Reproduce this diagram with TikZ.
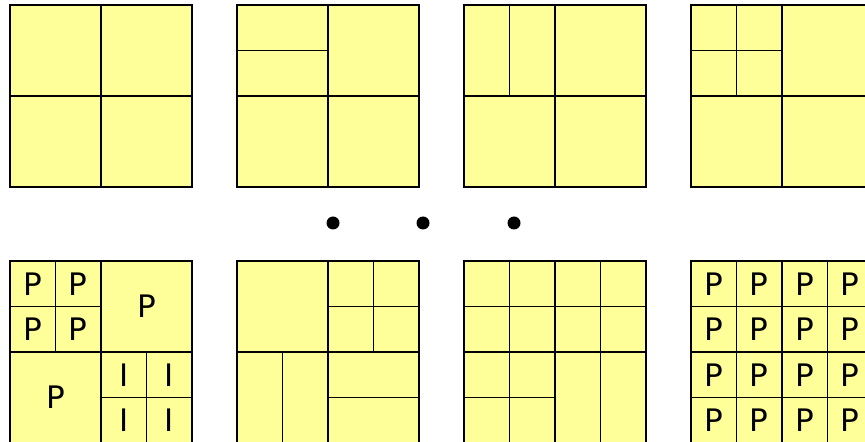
\documentclass[tikz,border=0pt]{standalone}
\usepackage{fontspec}
\setsansfont{DejaVu Sans}
\usetikzlibrary{positioning}
\definecolor{cellyellow}{HTML}{FFFF99}

\begin{document}
\begin{tikzpicture}[
  x=0.5pt, y=-0.5pt,
  font=\sffamily\fontsize{15.5}{18}\selectfont,
  blk/.style={draw=black, fill=cellyellow, line width=1pt},
  split/.style={draw=black, line width=0.9pt},
  lbl/.style={inner sep=0pt, anchor=center},
  dot/.style={circle, fill=black, inner sep=0pt, minimum size=6.5pt},
]
\clip (0,0) rectangle (865,442);

% top row: quadtree refinements of the top-left quadrant
\foreach \x in {10,237,464,691} {
  \draw[blk] (\x,5) rectangle ++(182,182);
  \draw[split] (\x+91,5) -- ++(0,182) (\x,96) -- ++(182,0);
}
\draw[split] (237,50.5) -- ++(91,0);
\draw[split] (509.5,5) -- ++(0,91);
\draw[split] (691,50.5) -- ++(91,0) (736.5,5) -- ++(0,91);

% dots
\node[dot] (d1) at (333,223) {};
\node[dot] (d2) at (423,223) {};
\node[dot] (d3) at (514,223) {};

% bottom row
\foreach \x in {10,237,464,691} {
  \draw[blk] (\x,261) rectangle ++(182,182);
  \draw[split] (\x+91,261) -- ++(0,182) (\x,352) -- ++(182,0);
}
% square 1
\draw[split] (10,306.5) -- ++(91,0) (55.5,261) -- ++(0,91);
\draw[split] (101,397.5) -- ++(91,0) (146.5,352) -- ++(0,91);
\foreach \i/\px/\py in {1/32.75/283.75, 2/78.25/283.75, 3/32.75/329.25, 4/78.25/329.25,
                        5/146.5/306.5, 6/55.5/397.5}
  \node[lbl] (p\i) at (\px,\py) {P};
\foreach \i/\px/\py in {1/123.75/374.75, 2/169.25/374.75, 3/123.75/420.25, 4/169.25/420.25}
  \node[lbl] (i\i) at (\px,\py) {I};
% square 2
\draw[split] (328,306.5) -- ++(91,0) (373.5,261) -- ++(0,91);
\draw[split] (282.5,352) -- ++(0,91);
\draw[split] (328,397.5) -- ++(91,0);
% square 3
\draw[split] (509.5,261) -- ++(0,182) (600.5,261) -- ++(0,182);
\draw[split] (464,306.5) -- ++(182,0) (464,397.5) -- ++(91,0);
% square 4: full grid of P cells
\draw[split] (736.5,261) -- ++(0,182) (827.5,261) -- ++(0,182);
\draw[split] (691,306.5) -- ++(182,0) (691,397.5) -- ++(182,0);
\foreach \c in {0,1,2,3}
  \foreach \r in {0,1,2,3}
    \node[lbl] (q\r\c) at (713.75+45.5*\c,283.75+45.5*\r) {P};
\end{tikzpicture}
\end{document}
